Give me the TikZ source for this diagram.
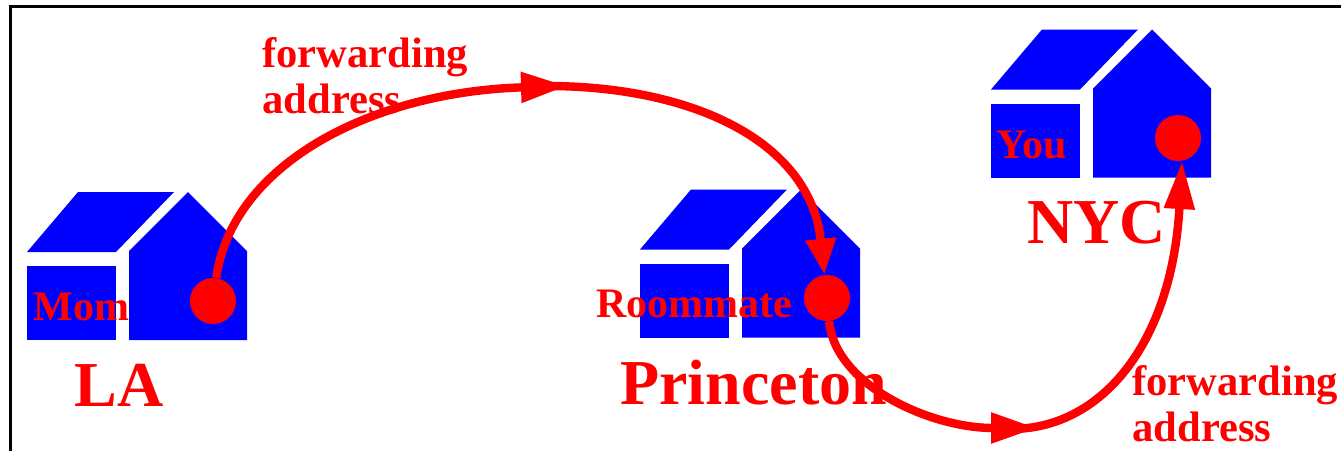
\documentclass[tikz,border=0pt]{standalone}
\usepackage{fontspec}
\setmainfont{Liberation Serif}
\usetikzlibrary{arrows.meta}
\definecolor{houseblue}{RGB}{0,0,255}
\definecolor{markred}{RGB}{255,0,0}

\begin{document}
\begin{tikzpicture}[x=0.5pt,y=-0.5pt,
  hs/.style={fill=houseblue, draw=none},
  dot/.style={circle, fill=markred, draw=none, minimum size=23pt, inner sep=0pt},
  lbl/.style={anchor=base west, inner sep=0pt, text=markred, font=\bfseries\fontsize{#1}{#1}\selectfont},
  a/.style={-{Triangle[length=#1,width=14.5pt]}, markred, line width=4.2pt},
  a/.default=23pt]
\useasboundingbox (0,0) rectangle (1341,451);
\draw[line width=1.5pt] (10,451) -- (10,6) -- (1341,6);
\foreach \hx/\hy in {27/192,640/189.5,991/29.5}{
  \begin{scope}[shift={(\hx*0.5pt,-\hy*0.5pt)}]
  \fill[hs] (0,60) -- (51,0) -- (147,0) -- (89,60) -- cycle;
  \fill[hs] (0,74) rectangle (89,148);
  \fill[hs] (102,148) -- (102,59) -- (161,0) -- (220,59) -- (220,148) -- cycle;
  \end{scope}
}
\node[dot] (mom) at (213,301) {};
\node[dot] (roommate) at (827,298) {};
\node[dot] (you) at (1178,138) {};
\coordinate (turn1) at (567,86);
\coordinate (turn2) at (1037,428);
\draw[a] (mom) .. controls (232,165) and (370,92) .. (turn1);
\draw[a=18pt, shorten <=-10pt] (turn1) .. controls (690,86) and (810,140) .. (roommate);
\draw[a] (roommate) .. controls (835,385) and (930,428) .. (turn2);
\draw[a=24pt, shorten <=-10pt] (turn2) .. controls (1105,425) and (1172,340) .. (you.-80);
\node[lbl=21.3] (fwd1) at (262,67) {forwarding};
\node[lbl=21.3] (addr1) at (262,113) {address};
\node[lbl=21.3] (fwd2) at (1132,395) {forwarding};
\node[lbl=21.3] (addr2) at (1132,441) {address};
\node[lbl=21] (momtxt) at (33,320) {Mom};
\node[lbl=21] (roomtxt) at (596,317) {Roommate};
\node[lbl=21] (youtxt) at (996,158) {You};
\node[lbl=32] (la) at (74,406) {LA};
\node[lbl=32] (princeton) at (620,404) {Princeton};
\node[lbl=32] (nyc) at (1027,243) {NYC};
\end{tikzpicture}
\end{document}
